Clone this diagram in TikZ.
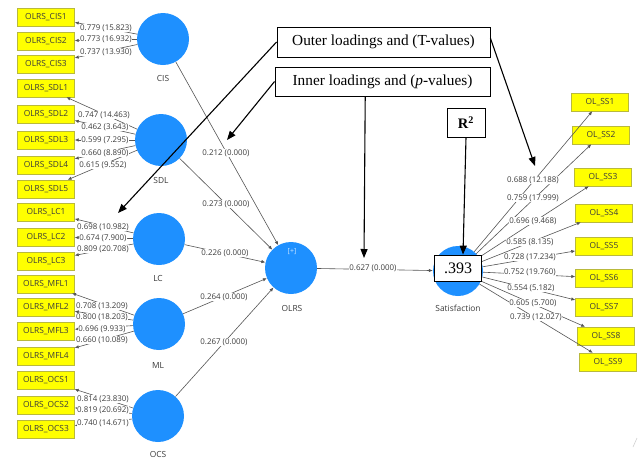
\documentclass[tikz,border=0pt]{standalone}
\usepackage{fontspec}
\setmainfont{Liberation Serif}
\newfontfamily\uifont{Open Sans}
\usetikzlibrary{arrows.meta,calc}
\definecolor{plsblue}{RGB}{30,144,255}
\definecolor{indyel}{RGB}{255,255,0}
\definecolor{indbd}{RGB}{185,185,60}
\definecolor{txtgray}{RGB}{60,60,60}
\definecolor{lngray}{RGB}{85,85,85}
\definecolor{plustxt}{RGB}{200,228,255}
\begin{document}
\begin{tikzpicture}[x=1pt,y=-1pt,
 lv/.style={circle,fill=plsblue,minimum size=52pt,inner sep=0pt},
 ind/.style={rectangle,fill=indyel,draw=indbd,line width=0.4pt,minimum width=57pt,minimum height=18pt,inner sep=0pt,font=\uifont\fontsize{8.4}{10}\selectfont,text=txtgray},
 lvlab/.style={font=\uifont\fontsize{8.4}{10}\selectfont,text=txtgray},
 num/.style={fill=white,inner sep=0.5pt,font=\uifont\fontsize{7.9}{9}\selectfont,text=txtgray},
 conn/.style={draw=lngray,line width=0.6pt,-{Latex[length=4pt,width=3.4pt]}},
 callout/.style={draw=black,fill=white,line width=0.9pt,inner sep=0pt,font=\fontsize{15.3}{17}\selectfont},
 carrow/.style={draw=black,line width=1.1pt,-{Triangle[length=9pt,width=7pt]}},
]
\useasboundingbox[fill=white] (0,0) rectangle (642,459);

% latent variables
\node[lv] (cis) at (163,39) {};
\node[lv] (sdl) at (161,140) {};
\node[lv] (lc) at (159,239) {};
\node[lv] (ml) at (159,324) {};
\node[lv] (ocs) at (158,416) {};
\node[lv] (olrs) at (291,268) {};
\node[lv,minimum size=50pt] (sat) at (458,271) {};
\node[font=\uifont\fontsize{7}{8}\selectfont,text=plustxt] (plus) at (292,252) {[+]};

\node[lvlab] (cisl) at (163,78) {CIS};
\node[lvlab] (sdll) at (161,180) {SDL};
\node[lvlab] (lcl) at (158,278) {LC};
\node[lvlab] (mll) at (158,365) {ML};
\node[lvlab] (ocsl) at (158,454) {OCS};
\node[lvlab] (olrsl) at (292,308) {OLRS};
\node[lvlab] (satl) at (458,308) {Satisfaction};

% left indicators
\foreach \n/\t/\y in {cisa/CIS1/17,cisb/CIS2/41,cisc/CIS3/64,
  sdla/SDL1/88,sdlb/SDL2/114,sdlc/SDL3/140,sdld/SDL4/165,sdle/SDL5/189,
  lca/LC1/212,lcb/LC2/237,lcc/LC3/261,
  mla/MFL1/284,mlb/MFL2/307,mlc/MFL3/331,mld/MFL4/356,
  ocsa/OCS1/380,ocsb/OCS2/405,ocsc/OCS3/429}
  \node[ind] (\n) at (46,\y) {OLRS\_\t};

% right indicators
\foreach \n/\t/\x/\y in {ssa/SS1/600/102,ssb/SS2/601/135,ssc/SS3/603/177,
  ssd/SS4/604/213,sse/SS5/604/246,ssf/SS6/604/278,ssg/SS7/604/307,
  ssh/SS8/606/336,ssi/SS9/608/362}
  \node[ind] (\n) at (\x,\y) {OL\_\t};

% measurement arrows (left)
\foreach \s/\d in {cis/cisa,cis/cisb,cis/cisc,
  sdl/sdla,sdl/sdlb,sdl/sdlc,sdl/sdld,sdl/sdle,
  lc/lca,lc/lcb,lc/lcc,
  ml/mla,ml/mlb,ml/mlc,ml/mld,
  ocs/ocsa,ocs/ocsb,ocs/ocsc}
  \draw[conn] (\s) -- (\d);

% measurement arrows (right)
\foreach \d in {ssa,ssb,ssc,ssd,sse,ssf,ssg,ssh,ssi}
  \draw[conn] (sat) -- (\d);

% structural arrows
\foreach \s in {cis,sdl,lc,ml,ocs}
  \draw[conn] (\s) -- (olrs);
\draw[conn] (olrs) -- (sat);

% value box
\node[draw=black,fill=white,line width=0.8pt,minimum width=47pt,minimum height=26pt,inner sep=0pt,font=\fontsize{16}{18}\selectfont] (val) at (458,268) {.393};

% outer loading labels (left)
\foreach \n/\x/\y/\t in {
  o1/106/28/{0.779 (15.823)},o2/106/39/{0.773 (16.932)},o3/106/52/{0.737 (13.930)},
  o4/104/115/{0.747 (14.463)},o5/105/127/{0.462 (3.643)},o6/105/140/{0.599 (7.295)},
  o7/105/153/{0.660 (8.890)},o8/103/165/{0.615 (9.552)},
  o9/103/227/{0.698 (10.982)},o10/103/238/{0.674 (7.900)},o11/103/249/{0.809 (20.708)},
  o12/102/306/{0.708 (13.209)},o13/102/317/{0.800 (18.203)},o14/102/329/{0.696 (9.933)},
  o15/102/340/{0.660 (10.089)},
  o16/103/399/{0.814 (23.830)},o17/103/410/{0.819 (20.692)},o18/103/423/{0.740 (14.671)}}
  \node[num] (\n) at (\x,\y) {\t};

% outer loading labels (right)
\foreach \n/\x/\y/\t in {
  r1/533/180/{0.688 (12.188)},r2l/533/198/{0.759 (17.999)},r3/533/221/{0.696 (9.468)},
  r4/530/242/{0.585 (8.135)},r5/530/257/{0.728 (17.234)},r6/530/272/{0.752 (19.760)},
  r7/531/288/{0.554 (5.182)},r8/533/303/{0.605 (5.700)},r9/536/317/{0.739 (12.027)}}
  \node[num] (\n) at (\x,\y) {\t};

% inner path labels
\node[num] (p1) at (226,153) {0.212 (0.000)};
\node[num] (p2) at (226,204) {0.273 (0.000)};
\node[num] (p3) at (225,253) {0.226 (0.000)};
\node[num] (p4) at (224,297) {0.264 (0.000)};
\node[num] (p5) at (224,342) {0.267 (0.000)};
\node[num] (p6) at (373,268) {0.627 (0.000)};

% callouts
\node[callout,minimum width=213pt,minimum height=30pt] (outer) at (383.5,42) {Outer loadings and (T-values)};
\node[callout,minimum width=215pt,minimum height=29pt] (inner) at (382.5,81.5) {Inner loadings and (\textit{p}-values)};
\node[callout,minimum width=38pt,minimum height=29pt,font=\fontsize{14.5}{16}\selectfont] (rsq) at (466,122.5) {\textbf{R\textsuperscript{2}}};

\coordinate (t1) at (118,213);
\coordinate (t2) at (535,166);
\coordinate (t3) at (227,140);
\coordinate (t4) at (364,258);
\draw[carrow] (outer.west) -- (t1);
\draw[carrow] ($(outer.north east)!0.38!(outer.south east)$) -- (t2);
\draw[carrow] (inner.west) -- (t3);
\draw[carrow] ($(inner.south west)!0.42!(inner.south east)$) -- (t4);
\draw[carrow] (rsq.south) -- ([xshift=5pt]val.north);

% faint corner mark
\coordinate (m1) at (633,447);
\coordinate (m2) at (637,438);
\draw[gray!35,line width=0.6pt] (m1) -- (m2);
\end{tikzpicture}
\end{document}
